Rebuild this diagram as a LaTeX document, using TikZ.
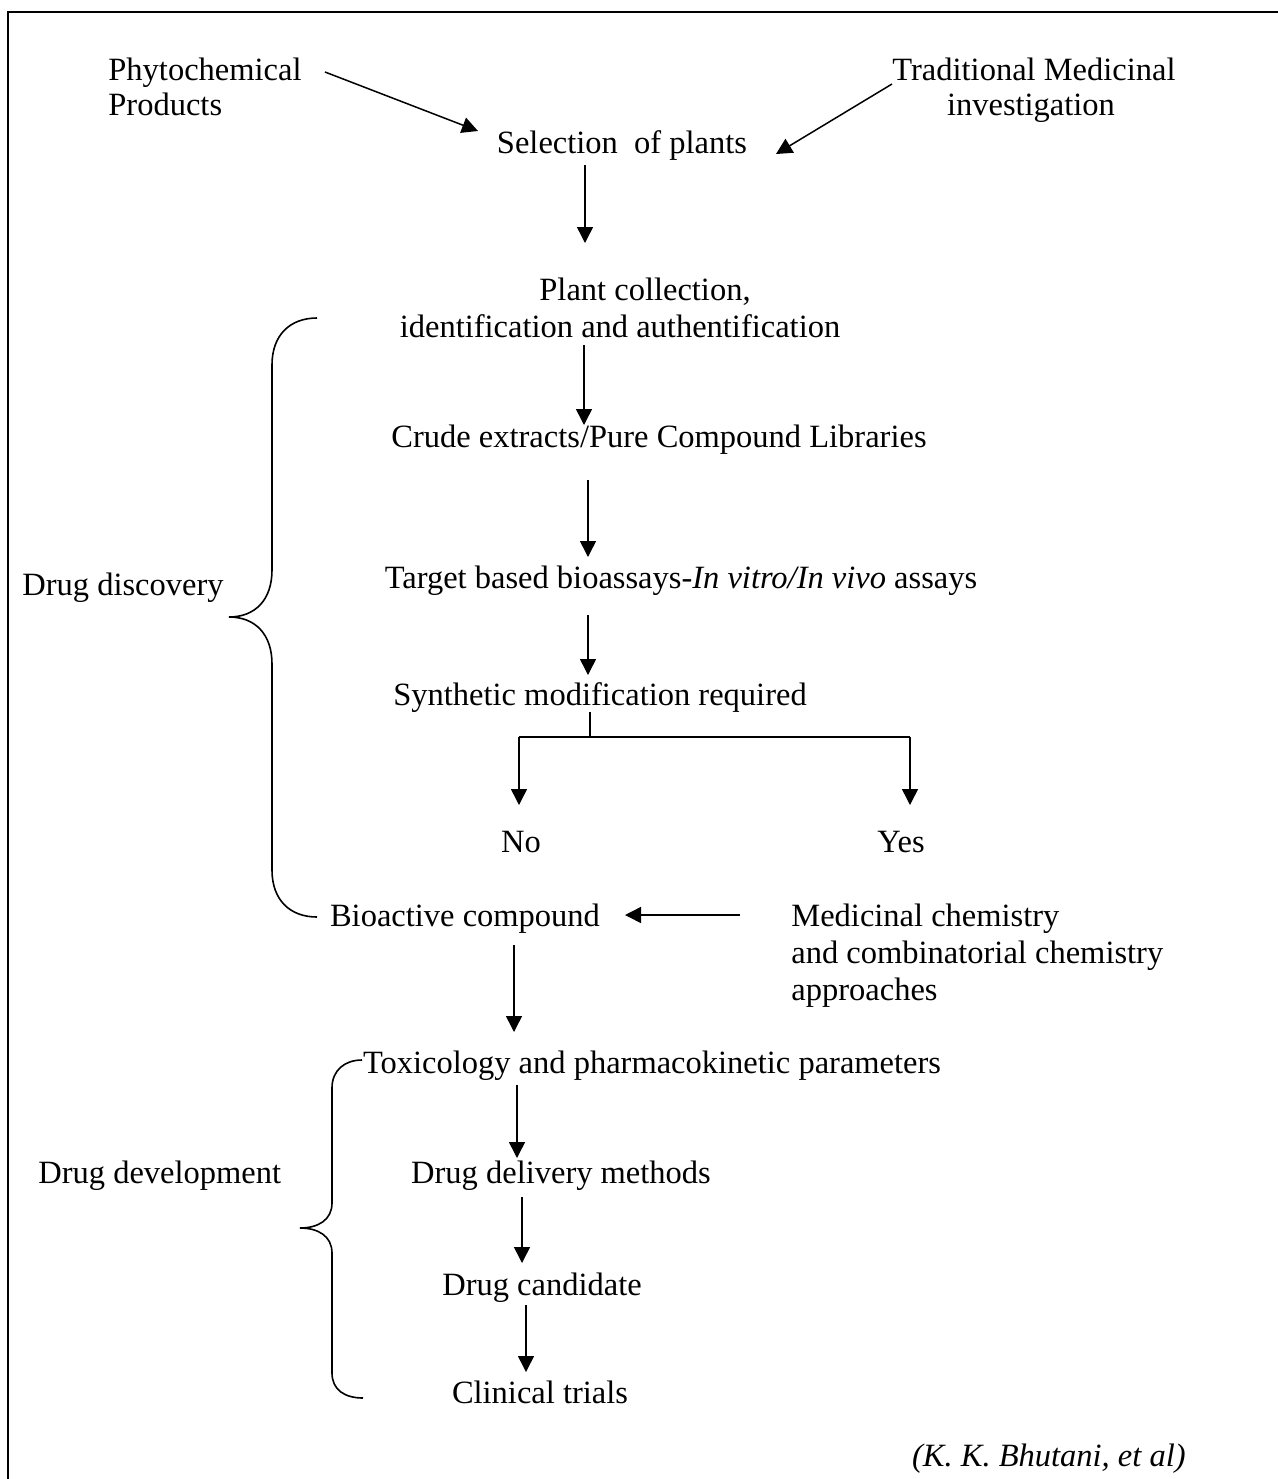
\documentclass[tikz,border=0pt]{standalone}
\usepackage{fontspec}
\setmainfont{Liberation Serif}
\usetikzlibrary{arrows.meta}
\begin{document}
\begin{tikzpicture}[x=0.5pt,y=-0.5pt,
  txt/.style={inner sep=0pt,anchor=base,font=\fontsize{16.25}{18.5}\selectfont},
  txtl/.style={txt,anchor=base west},
  txtr/.style={txt,anchor=base east},
  arr/.style={line width=0.75pt,-{Triangle[length=8pt,width=8pt]}},
  ln/.style={line width=0.75pt},
  brace/.style={line width=0.8pt}]
\useasboundingbox (0,0) rectangle (1278,1479);
% frame (top and left edges visible)
\draw[line width=1pt] (1278,12) -- (8,12) -- (8,1479);
% texts
\node[txtl] (ph1) at (108,80) {Phytochemical};
\node[txtl] (ph2) at (108,115) {Products};
\node[txt] (tm1) at (1034,80) {Traditional Medicinal};
\node[txt] (tm2) at (1031,115) {investigation};
\node[txt] (sel) at (622,153) {Selection\ \ of plants};
\node[txt] (pc1) at (645,300) {Plant collection,};
\node[txt] (pc2) at (620,337) {identification and authentification};
\node[txt] (crude) at (659,447) {Crude extracts/Pure Compound Libraries};
\node[txt] (target) at (681,588) {Target based bioassays-\textit{In vitro/In vivo} assays};
\node[txt] (synth) at (600,705) {Synthetic modification required};
\node[txt] (no) at (521,852) {No};
\node[txt] (yes) at (901,852) {Yes};
\node[txt] (bio) at (465,926) {Bioactive compound};
\node[txtl] (med1) at (791,926) {Medicinal chemistry};
\node[txtl] (med2) at (791,963) {and combinatorial chemistry};
\node[txtl] (med3) at (791,1000) {approaches};
\node[txt] (tox) at (652,1073) {Toxicology and pharmacokinetic parameters};
\node[txt] (deliv) at (561,1183) {Drug delivery methods};
\node[txt] (cand) at (542,1295) {Drug candidate};
\node[txt] (clin) at (540,1403) {Clinical trials};
\node[txtl] (disc) at (22,595) {Drug discovery};
\node[txtl] (dev) at (38,1183) {Drug development};
\node[txtr] (cite) at (1186,1466) {\textit{(K. K. Bhutani, et al)}};
% connector end points
\coordinate (a1s) at (325,72);  \coordinate (a1e) at (478,131);
\coordinate (a2s) at (892,84);  \coordinate (a2e) at (776,154);
\coordinate (a3s) at (585,165); \coordinate (a3e) at (585,243);
\coordinate (a4s) at (584,345); \coordinate (a4e) at (584,425);
\coordinate (a5s) at (588,480); \coordinate (a5e) at (588,557);
\coordinate (a6s) at (588,615); \coordinate (a6e) at (588,675);
\coordinate (tks) at (590,712); \coordinate (tke) at (590,737);
\coordinate (hl) at (519,737);  \coordinate (hr) at (910,737);
\coordinate (nol) at (519,805); \coordinate (yesl) at (910,805);
\coordinate (a7s) at (740,915); \coordinate (a7e) at (625,915);
\coordinate (a8s) at (514,945); \coordinate (a8e) at (514,1032);
\coordinate (a9s) at (517,1085); \coordinate (a9e) at (517,1158);
\coordinate (a10s) at (522,1197); \coordinate (a10e) at (522,1263);
\coordinate (a11s) at (526,1305); \coordinate (a11e) at (526,1372);
% connectors
\draw[arr] (a1s) -- (a1e);
\draw[arr] (a2s) -- (a2e);
\draw[arr] (a3s) -- (a3e);
\draw[arr] (a4s) -- (a4e);
\draw[arr] (a5s) -- (a5e);
\draw[arr] (a6s) -- (a6e);
\draw[ln] (tks) -- (tke);
\draw[ln] (hl) -- (hr);
\draw[arr] (hl) -- (nol);
\draw[arr] (hr) -- (yesl);
\draw[arr] (a7s) -- (a7e);
\draw[arr] (a8s) -- (a8e);
\draw[arr] (a9s) -- (a9e);
\draw[arr] (a10s) -- (a10e);
\draw[arr] (a11s) -- (a11e);
% braces
\draw[brace] (317,318) .. controls (290,318) and (272,335) .. (272,365) -- (272,570)
  .. controls (272,600) and (255,617) .. (229,617)
  .. controls (255,617) and (272,634) .. (272,664) -- (272,870)
  .. controls (272,900) and (290,917) .. (317,917);
\draw[brace] (362,1060) .. controls (345,1060) and (332,1070) .. (332,1088) -- (332,1203)
  .. controls (332,1220) and (318,1228) .. (300,1228)
  .. controls (318,1228) and (332,1236) .. (332,1253) -- (332,1373)
  .. controls (332,1390) and (345,1398) .. (363,1398);
\end{tikzpicture}
\end{document}
